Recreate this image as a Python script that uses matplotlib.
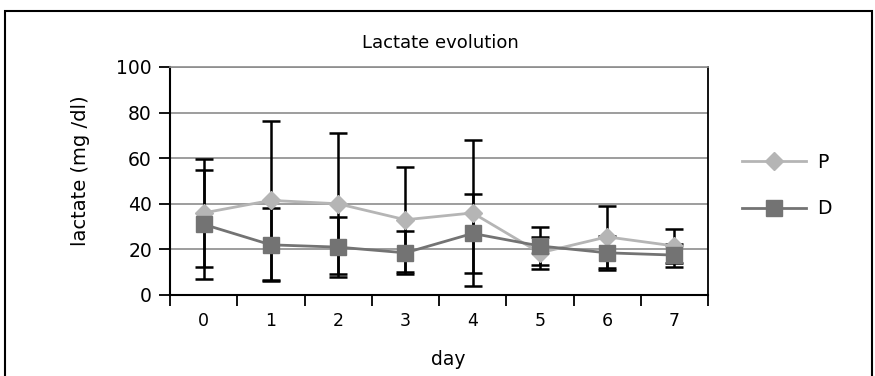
import numpy as np
import matplotlib.pyplot as plt
from matplotlib.patches import Rectangle

days = [0, 1, 2, 3, 4, 5, 6, 7]
p_mean = [36, 41.5, 40, 33, 36, 18.5, 25.5, 21.5]
p_sd = [23.5, 35, 31, 23, 32, 7, 13.5, 7.5]
d_mean = [31, 22, 21, 18.5, 27, 21.5, 18.5, 17.5]
d_sd = [24, 16, 13, 9.5, 17.5, 8.5, 7.5, 5]

fig = plt.figure(figsize=(8.75, 3.76), dpi=100)
ax = fig.add_axes([170/875, 81/376, 538/875, 228/376])

x = np.array(days)
ax.errorbar(x, p_mean, yerr=p_sd, fmt="none", ecolor="black", elinewidth=1.8,
            capsize=6.5, capthick=1.8, zorder=2)
ax.errorbar(x, d_mean, yerr=d_sd, fmt="none", ecolor="black", elinewidth=1.8,
            capsize=6.5, capthick=1.8, zorder=2)
ax.plot(x, p_mean, color="#b5b5b5", lw=2, marker="D", ms=9, mec="#b5b5b5",
        label="P", zorder=3)
ax.plot(x, d_mean, color="#737373", lw=2, marker="s", ms=11, mec="#737373",
        label="D", zorder=4)

ax.set_xlim(-0.5, 7.5)
ax.set_ylim(0, 100)
ax.set_yticks([0, 20, 40, 60, 80, 100])
ax.set_xticks(x)
ax.set_xticks(np.arange(-0.5, 8, 1), minor=True)
ax.tick_params(axis="x", which="major", length=0, labelsize=12.5, pad=12)
ax.tick_params(axis="x", which="minor", length=8, width=1.3, direction="out")
ax.tick_params(axis="y", length=8, width=1.3, labelsize=13.5, pad=5)
ax.yaxis.grid(True, color="#8c8c8c", lw=1.2)
ax.set_axisbelow(True)
for s in ["left", "bottom"]:
    ax.spines[s].set_linewidth(1.5)
ax.spines["top"].set_color("#8c8c8c")
ax.spines["top"].set_linewidth(1.2)
ax.spines["right"].set_linewidth(1.3)

ax.set_xlabel("day", fontsize=13.5)
ax.xaxis.set_label_coords(0.517, -0.24)
ax.set_ylabel("lactate (mg /dl)", fontsize=14)
ax.yaxis.set_label_coords(-0.149, 0.544)
fig.text(0.503, 0.885, "Lactate evolution", ha="center", va="center", fontsize=13)

ax.legend(loc="center left", bbox_to_anchor=(1.032, 0.48), frameon=False,
          fontsize=13.5, handlelength=3.4, labelspacing=1.45, handletextpad=0.6)

fig.add_artist(Rectangle((5/875, -0.1), 867/875, 1.1 - 11/376, transform=fig.transFigure,
                         fill=False, ec="black", lw=1.5))

fig.savefig("out.png", dpi=100)
